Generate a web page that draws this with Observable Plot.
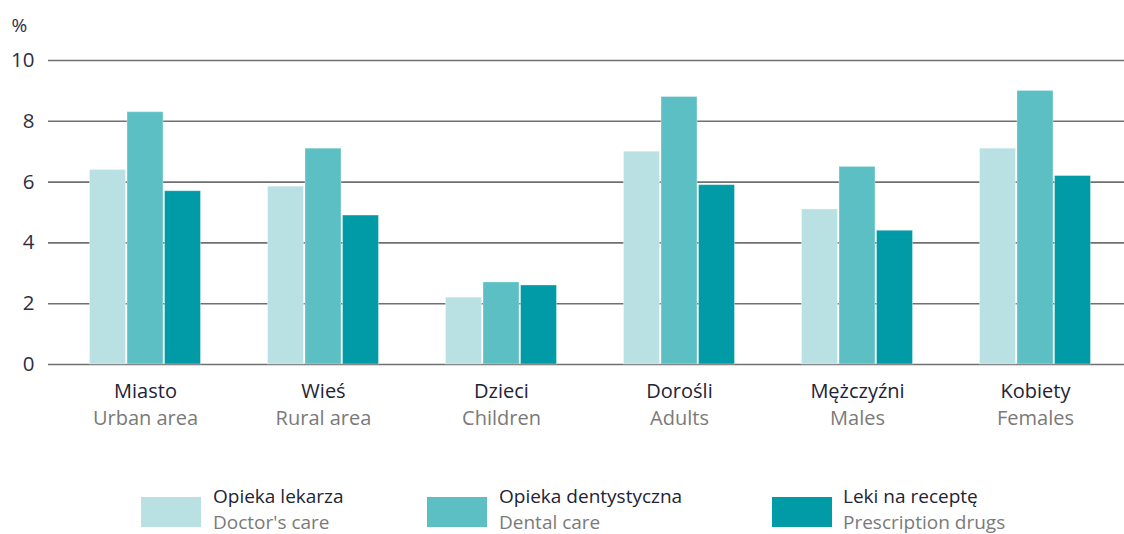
<!DOCTYPE html>
<html>
<head>
<meta charset="utf-8">
<script src="https://cdn.jsdelivr.net/npm/d3@7"></script>
<script src="https://cdn.jsdelivr.net/npm/@observablehq/plot@0.6"></script>
<style>
  body { margin: 0; background: #fff; font-family: "Open Sans", sans-serif; }
  #wrap { position: relative; width: 1124px; }
  #legend { position: relative; width: 1124px; height: 84px; }
  .sw { position: absolute; top: 47px; width: 60px; height: 30px; }
  .lt { position: absolute; top: 34px; font-size: 19px; line-height: 25.5px; }
  .lt .pl { color: #232336; }
  .lt .en { color: #7a7a7a; }
</style>
</head>
<body>
<div id="wrap"></div>
<script>
const categoriesPl = ["Miasto", "Wieś", "Dzieci", "Dorośli", "Mężczyźni", "Kobiety"];
const categoriesEn = ["Urban area", "Rural area", "Children", "Adults", "Males", "Females"];
const seriesPl = ["Opieka lekarza", "Opieka dentystyczna", "Leki na receptę"];
const seriesEn = ["Doctor's care", "Dental care", "Prescription drugs"];
const doctor = [6.4, 5.85, 2.2, 7.0, 5.1, 7.1];
const dental = [8.3, 7.1, 2.7, 8.8, 6.5, 9.0];
const drugs  = [5.7, 4.9, 2.6, 5.9, 4.4, 6.2];
const yTicks = [0, 2, 4, 6, 8, 10];
const colors = ["#b9e1e3", "#5cbfc4", "#009ba6"];

const seriesValues = [doctor, dental, drugs];
const offsets = [-37.5, 0, 37.5];
const labels = categoriesPl.map((c, i) => ({pl: c, en: categoriesEn[i]}));

const barMarks = seriesValues.map((vals, s) =>
  Plot.barY(categoriesPl.map((c, i) => ({category: c, value: vals[i]})), {
    x: "category", y: "value", fill: colors[s], dx: offsets[s],
    stroke: "#ffffff", strokeOpacity: 0.35, strokeWidth: 1
  })
);

const chart = Plot.plot({
  width: 1124,
  height: 450,
  marginTop: 60,
  marginBottom: 86,
  marginLeft: 48,
  marginRight: 0,
  style: {fontFamily: "Open Sans, sans-serif", background: "#fff"},
  x: {domain: categoriesPl, axis: null, insetLeft: 8, paddingInner: 0.8, paddingOuter: 0.4},
  y: {domain: [0, 10], axis: null},
  marks: [
    Plot.ruleY(yTicks, {y: d => d, stroke: "#707070", strokeWidth: 1.6}),
    ...barMarks,
    Plot.axisY({ticks: yTicks, tickSize: 0, tickPadding: 14, label: null, fontSize: 20.5, color: "#2e2e44"}),
    Plot.text(["%"], {frameAnchor: "top-left", dx: -37, dy: -42, fontSize: 19, fill: "#2e2e44", textAnchor: "start"}),
    Plot.text(labels, {x: "pl", y: () => 0, text: "pl", lineAnchor: "bottom", dy: 33, fontSize: 20, fill: "#232336"}),
    Plot.text(labels, {x: "pl", y: () => 0, text: "en", lineAnchor: "bottom", dy: 60, fontSize: 20, fill: "#7a7a7a"})
  ]
});

const wrap = document.getElementById("wrap");
wrap.appendChild(chart);

const legend = document.createElement("div");
legend.id = "legend";
const swatchX = [141, 427, 772];
const textX = [213, 499, 843];
seriesPl.forEach((s, i) => {
  const sw = document.createElement("div");
  sw.className = "sw";
  sw.style.left = swatchX[i] + "px";
  sw.style.background = colors[i];
  legend.appendChild(sw);
  const t = document.createElement("div");
  t.className = "lt";
  t.style.left = textX[i] + "px";
  t.innerHTML = `<div class="pl">${s}</div><div class="en">${seriesEn[i]}</div>`;
  legend.appendChild(t);
});
wrap.appendChild(legend);
</script>
</body>
</html>
